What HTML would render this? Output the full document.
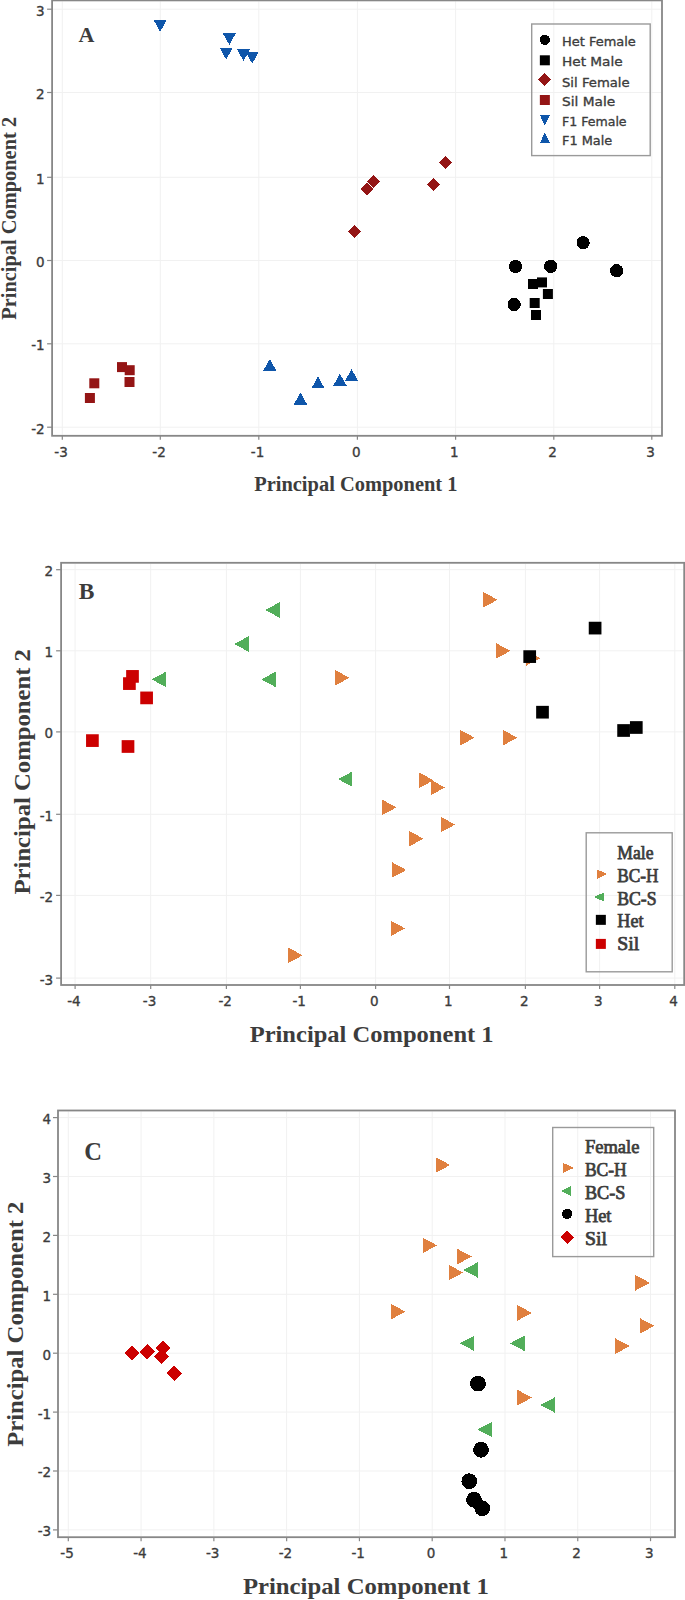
<!DOCTYPE html>
<html><head><meta charset="utf-8"><title>PCA plots</title>
<style>html,body{margin:0;padding:0;background:#fff;}body{width:685px;height:1600px;overflow:hidden;}svg{display:block;}</style>
</head><body>
<svg width="685" height="1600" viewBox="0 0 685 1600">
<style>polygon,circle{shape-rendering:crispEdges}</style>
<rect width="685" height="1600" fill="#ffffff"/>
<line x1="62.3" y1="1.4" x2="62.3" y2="434.8" stroke="#f1f1f1" stroke-width="1"/>
<line x1="160.3" y1="1.4" x2="160.3" y2="434.8" stroke="#f1f1f1" stroke-width="1"/>
<line x1="258.8" y1="1.4" x2="258.8" y2="434.8" stroke="#f1f1f1" stroke-width="1"/>
<line x1="357.4" y1="1.4" x2="357.4" y2="434.8" stroke="#f1f1f1" stroke-width="1"/>
<line x1="455.6" y1="1.4" x2="455.6" y2="434.8" stroke="#f1f1f1" stroke-width="1"/>
<line x1="553.8" y1="1.4" x2="553.8" y2="434.8" stroke="#f1f1f1" stroke-width="1"/>
<line x1="651.8" y1="1.4" x2="651.8" y2="434.8" stroke="#f1f1f1" stroke-width="1"/>
<line x1="53.1" y1="9.2" x2="661" y2="9.2" stroke="#f1f1f1" stroke-width="1"/>
<line x1="53.1" y1="92.5" x2="661" y2="92.5" stroke="#f1f1f1" stroke-width="1"/>
<line x1="53.1" y1="177.3" x2="661" y2="177.3" stroke="#f1f1f1" stroke-width="1"/>
<line x1="53.1" y1="260.5" x2="661" y2="260.5" stroke="#f1f1f1" stroke-width="1"/>
<line x1="53.1" y1="343.8" x2="661" y2="343.8" stroke="#f1f1f1" stroke-width="1"/>
<line x1="53.1" y1="427.2" x2="661" y2="427.2" stroke="#f1f1f1" stroke-width="1"/>
<line x1="62.3" y1="435.8" x2="62.3" y2="439.8" stroke="#878787" stroke-width="1.2"/>
<line x1="160.3" y1="435.8" x2="160.3" y2="439.8" stroke="#878787" stroke-width="1.2"/>
<line x1="258.8" y1="435.8" x2="258.8" y2="439.8" stroke="#878787" stroke-width="1.2"/>
<line x1="357.4" y1="435.8" x2="357.4" y2="439.8" stroke="#878787" stroke-width="1.2"/>
<line x1="455.6" y1="435.8" x2="455.6" y2="439.8" stroke="#878787" stroke-width="1.2"/>
<line x1="553.8" y1="435.8" x2="553.8" y2="439.8" stroke="#878787" stroke-width="1.2"/>
<line x1="651.8" y1="435.8" x2="651.8" y2="439.8" stroke="#878787" stroke-width="1.2"/>
<line x1="47.1" y1="9.2" x2="52.1" y2="9.2" stroke="#878787" stroke-width="1.2"/>
<line x1="47.1" y1="92.5" x2="52.1" y2="92.5" stroke="#878787" stroke-width="1.2"/>
<line x1="47.1" y1="177.3" x2="52.1" y2="177.3" stroke="#878787" stroke-width="1.2"/>
<line x1="47.1" y1="260.5" x2="52.1" y2="260.5" stroke="#878787" stroke-width="1.2"/>
<line x1="47.1" y1="343.8" x2="52.1" y2="343.8" stroke="#878787" stroke-width="1.2"/>
<line x1="47.1" y1="427.2" x2="52.1" y2="427.2" stroke="#878787" stroke-width="1.2"/>
<rect x="52.1" y="0.4" width="609.9" height="435.4" fill="none" stroke="#878787" stroke-width="1.8"/>
<text x="61.1" y="457.2" font-family="'DejaVu Sans', 'Liberation Sans', sans-serif" font-size="13.5" fill="#3c3c3c" stroke="#3c3c3c" stroke-width="0.35" text-anchor="middle">-3</text>
<text x="159.1" y="457.2" font-family="'DejaVu Sans', 'Liberation Sans', sans-serif" font-size="13.5" fill="#3c3c3c" stroke="#3c3c3c" stroke-width="0.35" text-anchor="middle">-2</text>
<text x="257.6" y="457.2" font-family="'DejaVu Sans', 'Liberation Sans', sans-serif" font-size="13.5" fill="#3c3c3c" stroke="#3c3c3c" stroke-width="0.35" text-anchor="middle">-1</text>
<text x="356.2" y="457.2" font-family="'DejaVu Sans', 'Liberation Sans', sans-serif" font-size="13.5" fill="#3c3c3c" stroke="#3c3c3c" stroke-width="0.35" text-anchor="middle">0</text>
<text x="454.4" y="457.2" font-family="'DejaVu Sans', 'Liberation Sans', sans-serif" font-size="13.5" fill="#3c3c3c" stroke="#3c3c3c" stroke-width="0.35" text-anchor="middle">1</text>
<text x="552.6" y="457.2" font-family="'DejaVu Sans', 'Liberation Sans', sans-serif" font-size="13.5" fill="#3c3c3c" stroke="#3c3c3c" stroke-width="0.35" text-anchor="middle">2</text>
<text x="650.6" y="457.2" font-family="'DejaVu Sans', 'Liberation Sans', sans-serif" font-size="13.5" fill="#3c3c3c" stroke="#3c3c3c" stroke-width="0.35" text-anchor="middle">3</text>
<text x="44.6" y="15.66" font-family="'DejaVu Sans', 'Liberation Sans', sans-serif" font-size="13.5" fill="#3c3c3c" stroke="#3c3c3c" stroke-width="0.35" text-anchor="end">3</text>
<text x="44.6" y="98.96" font-family="'DejaVu Sans', 'Liberation Sans', sans-serif" font-size="13.5" fill="#3c3c3c" stroke="#3c3c3c" stroke-width="0.35" text-anchor="end">2</text>
<text x="44.6" y="183.76" font-family="'DejaVu Sans', 'Liberation Sans', sans-serif" font-size="13.5" fill="#3c3c3c" stroke="#3c3c3c" stroke-width="0.35" text-anchor="end">1</text>
<text x="44.6" y="266.96" font-family="'DejaVu Sans', 'Liberation Sans', sans-serif" font-size="13.5" fill="#3c3c3c" stroke="#3c3c3c" stroke-width="0.35" text-anchor="end">0</text>
<text x="44.6" y="350.26" font-family="'DejaVu Sans', 'Liberation Sans', sans-serif" font-size="13.5" fill="#3c3c3c" stroke="#3c3c3c" stroke-width="0.35" text-anchor="end">-1</text>
<text x="44.6" y="433.66" font-family="'DejaVu Sans', 'Liberation Sans', sans-serif" font-size="13.5" fill="#3c3c3c" stroke="#3c3c3c" stroke-width="0.35" text-anchor="end">-2</text>
<polygon points="153.5,19.8 166.9,19.8 160.2,31.8" fill="#0f56aa"/>
<polygon points="222.6,32.9 236,32.9 229.3,44.9" fill="#0f56aa"/>
<polygon points="219.5,47.6 232.9,47.6 226.2,59.6" fill="#0f56aa"/>
<polygon points="236.8,49 250.2,49 243.5,61" fill="#0f56aa"/>
<polygon points="245.5,51.7 258.9,51.7 252.2,63.7" fill="#0f56aa"/>
<polygon points="263.1,370.9 276.5,370.9 269.8,359.1" fill="#0f56aa"/>
<polygon points="293.8,404.5 307.2,404.5 300.5,392.7" fill="#0f56aa"/>
<polygon points="311.3,388.4 324.7,388.4 318,376.6" fill="#0f56aa"/>
<polygon points="333.2,385.6 346.6,385.6 339.9,373.8" fill="#0f56aa"/>
<polygon points="344.9,381.1 358.3,381.1 351.6,369.3" fill="#0f56aa"/>
<polygon points="354.5,224.9 361,231.4 354.5,237.9 348,231.4" fill="#941515"/>
<polygon points="367.4,182.5 373.9,189 367.4,195.5 360.9,189" fill="#941515"/>
<polygon points="373.3,175 379.8,181.5 373.3,188 366.8,181.5" fill="#941515"/>
<polygon points="433.4,178.1 439.9,184.6 433.4,191.1 426.9,184.6" fill="#941515"/>
<polygon points="445.5,156 452,162.5 445.5,169 439,162.5" fill="#941515"/>
<rect x="84.9" y="393" width="10" height="10" fill="#941515"/>
<rect x="89.3" y="378.3" width="10" height="10" fill="#941515"/>
<rect x="117" y="362.1" width="10" height="10" fill="#941515"/>
<rect x="124.7" y="365.2" width="10" height="10" fill="#941515"/>
<rect x="124.5" y="377" width="10" height="10" fill="#941515"/>
<circle cx="583.1" cy="242.7" r="6.6" fill="#000000"/>
<circle cx="515.5" cy="266.4" r="6.6" fill="#000000"/>
<circle cx="550.7" cy="266.4" r="6.6" fill="#000000"/>
<circle cx="616.6" cy="270.7" r="6.6" fill="#000000"/>
<circle cx="514.2" cy="304.5" r="6.6" fill="#000000"/>
<rect x="528" y="279" width="10" height="10" fill="#000000"/>
<rect x="537" y="277.4" width="10" height="10" fill="#000000"/>
<rect x="542.9" y="289" width="10" height="10" fill="#000000"/>
<rect x="529.7" y="298" width="10" height="10" fill="#000000"/>
<rect x="531" y="310" width="10" height="10" fill="#000000"/>
<rect x="531.7" y="24" width="118.5" height="131.6" fill="none" stroke="#9a9a9a" stroke-width="1.4"/>
<circle cx="544.85" cy="39.9" r="5.1" fill="#000000"/>
<text x="562" y="46" font-family="'DejaVu Sans', 'Liberation Sans', sans-serif" font-size="13" fill="#3c3c3c" stroke="#3c3c3c" stroke-width="0.35" textLength="73.8" lengthAdjust="spacingAndGlyphs">Het Female</text>
<rect x="539.85" y="55.3" width="10" height="10" fill="#000000"/>
<text x="562" y="66.1" font-family="'DejaVu Sans', 'Liberation Sans', sans-serif" font-size="13" fill="#3c3c3c" stroke="#3c3c3c" stroke-width="0.35" textLength="60.6" lengthAdjust="spacingAndGlyphs">Het Male</text>
<polygon points="544.85,73 551.35,79.5 544.85,86 538.35,79.5" fill="#941515"/>
<text x="562" y="86.8" font-family="'DejaVu Sans', 'Liberation Sans', sans-serif" font-size="13" fill="#3c3c3c" stroke="#3c3c3c" stroke-width="0.35" textLength="67.6" lengthAdjust="spacingAndGlyphs">Sil Female</text>
<rect x="539.85" y="95" width="10" height="10" fill="#941515"/>
<text x="562" y="105.9" font-family="'DejaVu Sans', 'Liberation Sans', sans-serif" font-size="13" fill="#3c3c3c" stroke="#3c3c3c" stroke-width="0.35" textLength="53.2" lengthAdjust="spacingAndGlyphs">Sil Male</text>
<polygon points="539.85,115.05 549.85,115.05 544.85,125.75" fill="#0f56aa"/>
<text x="562" y="126.4" font-family="'DejaVu Sans', 'Liberation Sans', sans-serif" font-size="13" fill="#3c3c3c" stroke="#3c3c3c" stroke-width="0.35" textLength="64.6" lengthAdjust="spacingAndGlyphs">F1 Female</text>
<polygon points="539.85,142.95 549.85,142.95 544.85,132.65" fill="#0f56aa"/>
<text x="562" y="145.1" font-family="'DejaVu Sans', 'Liberation Sans', sans-serif" font-size="13" fill="#3c3c3c" stroke="#3c3c3c" stroke-width="0.35" textLength="50.2" lengthAdjust="spacingAndGlyphs">F1 Male</text>
<text x="78.5" y="42.1" font-family="'Liberation Serif', 'Times New Roman', serif" font-weight="bold" font-size="22" fill="#3c3c3c">A</text>
<text x="254.2" y="490.6" font-family="'Liberation Serif', 'Times New Roman', serif" font-weight="bold" font-size="20.5" fill="#3c3c3c" textLength="203.3" lengthAdjust="spacingAndGlyphs">Principal Component 1</text>
<text transform="translate(15.8,319.7) rotate(-90)" x="0" y="0" font-family="'Liberation Serif', 'Times New Roman', serif" font-weight="bold" font-size="21" fill="#3c3c3c" textLength="202.8" lengthAdjust="spacingAndGlyphs">Principal Component 2</text>
<line x1="75.1" y1="563.8" x2="75.1" y2="984" stroke="#f1f1f1" stroke-width="1"/>
<line x1="150.7" y1="563.8" x2="150.7" y2="984" stroke="#f1f1f1" stroke-width="1"/>
<line x1="226.4" y1="563.8" x2="226.4" y2="984" stroke="#f1f1f1" stroke-width="1"/>
<line x1="300.4" y1="563.8" x2="300.4" y2="984" stroke="#f1f1f1" stroke-width="1"/>
<line x1="375.6" y1="563.8" x2="375.6" y2="984" stroke="#f1f1f1" stroke-width="1"/>
<line x1="449.5" y1="563.8" x2="449.5" y2="984" stroke="#f1f1f1" stroke-width="1"/>
<line x1="525.4" y1="563.8" x2="525.4" y2="984" stroke="#f1f1f1" stroke-width="1"/>
<line x1="599.6" y1="563.8" x2="599.6" y2="984" stroke="#f1f1f1" stroke-width="1"/>
<line x1="674.8" y1="563.8" x2="674.8" y2="984" stroke="#f1f1f1" stroke-width="1"/>
<line x1="62.1" y1="569.7" x2="683.2" y2="569.7" stroke="#f1f1f1" stroke-width="1"/>
<line x1="62.1" y1="650.8" x2="683.2" y2="650.8" stroke="#f1f1f1" stroke-width="1"/>
<line x1="62.1" y1="731.9" x2="683.2" y2="731.9" stroke="#f1f1f1" stroke-width="1"/>
<line x1="62.1" y1="814.3" x2="683.2" y2="814.3" stroke="#f1f1f1" stroke-width="1"/>
<line x1="62.1" y1="895.4" x2="683.2" y2="895.4" stroke="#f1f1f1" stroke-width="1"/>
<line x1="62.1" y1="978.1" x2="683.2" y2="978.1" stroke="#f1f1f1" stroke-width="1"/>
<line x1="75.1" y1="985" x2="75.1" y2="989" stroke="#878787" stroke-width="1.2"/>
<line x1="150.7" y1="985" x2="150.7" y2="989" stroke="#878787" stroke-width="1.2"/>
<line x1="226.4" y1="985" x2="226.4" y2="989" stroke="#878787" stroke-width="1.2"/>
<line x1="300.4" y1="985" x2="300.4" y2="989" stroke="#878787" stroke-width="1.2"/>
<line x1="375.6" y1="985" x2="375.6" y2="989" stroke="#878787" stroke-width="1.2"/>
<line x1="449.5" y1="985" x2="449.5" y2="989" stroke="#878787" stroke-width="1.2"/>
<line x1="525.4" y1="985" x2="525.4" y2="989" stroke="#878787" stroke-width="1.2"/>
<line x1="599.6" y1="985" x2="599.6" y2="989" stroke="#878787" stroke-width="1.2"/>
<line x1="674.8" y1="985" x2="674.8" y2="989" stroke="#878787" stroke-width="1.2"/>
<line x1="56.1" y1="569.7" x2="61.1" y2="569.7" stroke="#878787" stroke-width="1.2"/>
<line x1="56.1" y1="650.8" x2="61.1" y2="650.8" stroke="#878787" stroke-width="1.2"/>
<line x1="56.1" y1="731.9" x2="61.1" y2="731.9" stroke="#878787" stroke-width="1.2"/>
<line x1="56.1" y1="814.3" x2="61.1" y2="814.3" stroke="#878787" stroke-width="1.2"/>
<line x1="56.1" y1="895.4" x2="61.1" y2="895.4" stroke="#878787" stroke-width="1.2"/>
<line x1="56.1" y1="978.1" x2="61.1" y2="978.1" stroke="#878787" stroke-width="1.2"/>
<rect x="61.1" y="562.8" width="623.1" height="422.2" fill="none" stroke="#878787" stroke-width="1.8"/>
<text x="73.9" y="1006.2" font-family="'DejaVu Sans', 'Liberation Sans', sans-serif" font-size="13.5" fill="#3c3c3c" stroke="#3c3c3c" stroke-width="0.35" text-anchor="middle">-4</text>
<text x="149.5" y="1006.2" font-family="'DejaVu Sans', 'Liberation Sans', sans-serif" font-size="13.5" fill="#3c3c3c" stroke="#3c3c3c" stroke-width="0.35" text-anchor="middle">-3</text>
<text x="225.2" y="1006.2" font-family="'DejaVu Sans', 'Liberation Sans', sans-serif" font-size="13.5" fill="#3c3c3c" stroke="#3c3c3c" stroke-width="0.35" text-anchor="middle">-2</text>
<text x="299.2" y="1006.2" font-family="'DejaVu Sans', 'Liberation Sans', sans-serif" font-size="13.5" fill="#3c3c3c" stroke="#3c3c3c" stroke-width="0.35" text-anchor="middle">-1</text>
<text x="374.4" y="1006.2" font-family="'DejaVu Sans', 'Liberation Sans', sans-serif" font-size="13.5" fill="#3c3c3c" stroke="#3c3c3c" stroke-width="0.35" text-anchor="middle">0</text>
<text x="448.3" y="1006.2" font-family="'DejaVu Sans', 'Liberation Sans', sans-serif" font-size="13.5" fill="#3c3c3c" stroke="#3c3c3c" stroke-width="0.35" text-anchor="middle">1</text>
<text x="524.2" y="1006.2" font-family="'DejaVu Sans', 'Liberation Sans', sans-serif" font-size="13.5" fill="#3c3c3c" stroke="#3c3c3c" stroke-width="0.35" text-anchor="middle">2</text>
<text x="598.4" y="1006.2" font-family="'DejaVu Sans', 'Liberation Sans', sans-serif" font-size="13.5" fill="#3c3c3c" stroke="#3c3c3c" stroke-width="0.35" text-anchor="middle">3</text>
<text x="673.6" y="1006.2" font-family="'DejaVu Sans', 'Liberation Sans', sans-serif" font-size="13.5" fill="#3c3c3c" stroke="#3c3c3c" stroke-width="0.35" text-anchor="middle">4</text>
<text x="53.2" y="576.16" font-family="'DejaVu Sans', 'Liberation Sans', sans-serif" font-size="13.5" fill="#3c3c3c" stroke="#3c3c3c" stroke-width="0.35" text-anchor="end">2</text>
<text x="53.2" y="657.26" font-family="'DejaVu Sans', 'Liberation Sans', sans-serif" font-size="13.5" fill="#3c3c3c" stroke="#3c3c3c" stroke-width="0.35" text-anchor="end">1</text>
<text x="53.2" y="738.36" font-family="'DejaVu Sans', 'Liberation Sans', sans-serif" font-size="13.5" fill="#3c3c3c" stroke="#3c3c3c" stroke-width="0.35" text-anchor="end">0</text>
<text x="53.2" y="820.76" font-family="'DejaVu Sans', 'Liberation Sans', sans-serif" font-size="13.5" fill="#3c3c3c" stroke="#3c3c3c" stroke-width="0.35" text-anchor="end">-1</text>
<text x="53.2" y="901.86" font-family="'DejaVu Sans', 'Liberation Sans', sans-serif" font-size="13.5" fill="#3c3c3c" stroke="#3c3c3c" stroke-width="0.35" text-anchor="end">-2</text>
<text x="53.2" y="984.56" font-family="'DejaVu Sans', 'Liberation Sans', sans-serif" font-size="13.5" fill="#3c3c3c" stroke="#3c3c3c" stroke-width="0.35" text-anchor="end">-3</text>
<polygon points="483.35,592.05 483.35,607.55 497.65,599.8" fill="#e0803f"/>
<polygon points="496.15,643.15 496.15,658.65 510.45,650.9" fill="#e0803f"/>
<polygon points="525.85,650.45 525.85,665.95 540.15,658.2" fill="#e0803f"/>
<polygon points="335.15,670.05 335.15,685.55 349.45,677.8" fill="#e0803f"/>
<polygon points="460.35,729.95 460.35,745.45 474.65,737.7" fill="#e0803f"/>
<polygon points="503.05,729.95 503.05,745.45 517.35,737.7" fill="#e0803f"/>
<polygon points="419.25,772.55 419.25,788.05 433.55,780.3" fill="#e0803f"/>
<polygon points="430.65,779.75 430.65,795.25 444.95,787.5" fill="#e0803f"/>
<polygon points="382.15,799.65 382.15,815.15 396.45,807.4" fill="#e0803f"/>
<polygon points="440.85,816.85 440.85,832.35 455.15,824.6" fill="#e0803f"/>
<polygon points="409.15,830.95 409.15,846.45 423.45,838.7" fill="#e0803f"/>
<polygon points="392.05,862.25 392.05,877.75 406.35,870" fill="#e0803f"/>
<polygon points="390.75,920.65 390.75,936.15 405.05,928.4" fill="#e0803f"/>
<polygon points="288.35,947.55 288.35,963.05 302.65,955.3" fill="#e0803f"/>
<polygon points="279.65,602.25 279.65,617.75 265.35,610" fill="#52ae5a"/>
<polygon points="248.65,636.25 248.65,651.75 234.35,644" fill="#52ae5a"/>
<polygon points="275.65,671.65 275.65,687.15 261.35,679.4" fill="#52ae5a"/>
<polygon points="166.05,671.65 166.05,687.15 151.75,679.4" fill="#52ae5a"/>
<polygon points="352.45,771.45 352.45,786.95 338.15,779.2" fill="#52ae5a"/>
<rect x="523.35" y="650.25" width="12.7" height="12.7" fill="#000000"/>
<rect x="536.15" y="705.85" width="12.7" height="12.7" fill="#000000"/>
<rect x="588.75" y="621.75" width="12.7" height="12.7" fill="#000000"/>
<rect x="617.25" y="724.15" width="12.7" height="12.7" fill="#000000"/>
<rect x="629.95" y="721.15" width="12.7" height="12.7" fill="#000000"/>
<rect x="126.15" y="670.05" width="12.7" height="12.7" fill="#cc0000"/>
<rect x="123.05" y="677.25" width="12.7" height="12.7" fill="#cc0000"/>
<rect x="140.25" y="691.55" width="12.7" height="12.7" fill="#cc0000"/>
<rect x="86.05" y="734.25" width="12.7" height="12.7" fill="#cc0000"/>
<rect x="121.65" y="740.15" width="12.7" height="12.7" fill="#cc0000"/>
<rect x="586.2" y="832.8" width="86" height="139" fill="none" stroke="#9a9a9a" stroke-width="1.4"/>
<text x="617.3" y="859.2" font-family="'Liberation Serif', 'Times New Roman', serif" font-size="18.8" fill="#3c3c3c" stroke="#3c3c3c" stroke-width="0.75" textLength="36.2" lengthAdjust="spacingAndGlyphs">Male</text>
<polygon points="597.1,869.4 597.1,878.8 607.1,874.1" fill="#e0803f"/>
<text x="617.3" y="881.8" font-family="'Liberation Serif', 'Times New Roman', serif" font-size="18.8" fill="#3c3c3c" stroke="#3c3c3c" stroke-width="0.75" textLength="41.2" lengthAdjust="spacingAndGlyphs">BC-H</text>
<polygon points="604.35,892.15 604.35,901.85 594.25,897" fill="#52ae5a"/>
<text x="617.3" y="904.6" font-family="'Liberation Serif', 'Times New Roman', serif" font-size="18.8" fill="#3c3c3c" stroke="#3c3c3c" stroke-width="0.75" textLength="39.3" lengthAdjust="spacingAndGlyphs">BC-S</text>
<rect x="595.85" y="914.85" width="10" height="10" fill="#000000"/>
<text x="617.3" y="927.3" font-family="'Liberation Serif', 'Times New Roman', serif" font-size="18.8" fill="#3c3c3c" stroke="#3c3c3c" stroke-width="0.75" textLength="26.2" lengthAdjust="spacingAndGlyphs">Het</text>
<rect x="595.85" y="938.9" width="10" height="10" fill="#cc0000"/>
<text x="617.3" y="949.8" font-family="'Liberation Serif', 'Times New Roman', serif" font-size="18.8" fill="#3c3c3c" stroke="#3c3c3c" stroke-width="0.75" textLength="22" lengthAdjust="spacingAndGlyphs">Sil</text>
<text x="78.8" y="598.9" font-family="'Liberation Serif', 'Times New Roman', serif" font-weight="bold" font-size="23.5" fill="#3c3c3c">B</text>
<text x="249.7" y="1041.5" font-family="'Liberation Serif', 'Times New Roman', serif" font-weight="bold" font-size="24" fill="#3c3c3c" textLength="243.9" lengthAdjust="spacingAndGlyphs">Principal Component 1</text>
<text transform="translate(30.3,894.5) rotate(-90)" x="0" y="0" font-family="'Liberation Serif', 'Times New Roman', serif" font-weight="bold" font-size="24" fill="#3c3c3c" textLength="245.4" lengthAdjust="spacingAndGlyphs">Principal Component 2</text>
<line x1="68.3" y1="1111.5" x2="68.3" y2="1536.2" stroke="#f1f1f1" stroke-width="1"/>
<line x1="141.08" y1="1111.5" x2="141.08" y2="1536.2" stroke="#f1f1f1" stroke-width="1"/>
<line x1="213.86" y1="1111.5" x2="213.86" y2="1536.2" stroke="#f1f1f1" stroke-width="1"/>
<line x1="286.64" y1="1111.5" x2="286.64" y2="1536.2" stroke="#f1f1f1" stroke-width="1"/>
<line x1="359.42" y1="1111.5" x2="359.42" y2="1536.2" stroke="#f1f1f1" stroke-width="1"/>
<line x1="432.2" y1="1111.5" x2="432.2" y2="1536.2" stroke="#f1f1f1" stroke-width="1"/>
<line x1="504.98" y1="1111.5" x2="504.98" y2="1536.2" stroke="#f1f1f1" stroke-width="1"/>
<line x1="577.76" y1="1111.5" x2="577.76" y2="1536.2" stroke="#f1f1f1" stroke-width="1"/>
<line x1="650.54" y1="1111.5" x2="650.54" y2="1536.2" stroke="#f1f1f1" stroke-width="1"/>
<line x1="59" y1="1529.9" x2="674" y2="1529.9" stroke="#f1f1f1" stroke-width="1"/>
<line x1="59" y1="1471" x2="674" y2="1471" stroke="#f1f1f1" stroke-width="1"/>
<line x1="59" y1="1412.1" x2="674" y2="1412.1" stroke="#f1f1f1" stroke-width="1"/>
<line x1="59" y1="1353.2" x2="674" y2="1353.2" stroke="#f1f1f1" stroke-width="1"/>
<line x1="59" y1="1294.3" x2="674" y2="1294.3" stroke="#f1f1f1" stroke-width="1"/>
<line x1="59" y1="1235.4" x2="674" y2="1235.4" stroke="#f1f1f1" stroke-width="1"/>
<line x1="59" y1="1176.5" x2="674" y2="1176.5" stroke="#f1f1f1" stroke-width="1"/>
<line x1="59" y1="1117.6" x2="674" y2="1117.6" stroke="#f1f1f1" stroke-width="1"/>
<line x1="68.3" y1="1537.2" x2="68.3" y2="1541.2" stroke="#878787" stroke-width="1.2"/>
<line x1="141.08" y1="1537.2" x2="141.08" y2="1541.2" stroke="#878787" stroke-width="1.2"/>
<line x1="213.86" y1="1537.2" x2="213.86" y2="1541.2" stroke="#878787" stroke-width="1.2"/>
<line x1="286.64" y1="1537.2" x2="286.64" y2="1541.2" stroke="#878787" stroke-width="1.2"/>
<line x1="359.42" y1="1537.2" x2="359.42" y2="1541.2" stroke="#878787" stroke-width="1.2"/>
<line x1="432.2" y1="1537.2" x2="432.2" y2="1541.2" stroke="#878787" stroke-width="1.2"/>
<line x1="504.98" y1="1537.2" x2="504.98" y2="1541.2" stroke="#878787" stroke-width="1.2"/>
<line x1="577.76" y1="1537.2" x2="577.76" y2="1541.2" stroke="#878787" stroke-width="1.2"/>
<line x1="650.54" y1="1537.2" x2="650.54" y2="1541.2" stroke="#878787" stroke-width="1.2"/>
<line x1="53" y1="1529.9" x2="58" y2="1529.9" stroke="#878787" stroke-width="1.2"/>
<line x1="53" y1="1471" x2="58" y2="1471" stroke="#878787" stroke-width="1.2"/>
<line x1="53" y1="1412.1" x2="58" y2="1412.1" stroke="#878787" stroke-width="1.2"/>
<line x1="53" y1="1353.2" x2="58" y2="1353.2" stroke="#878787" stroke-width="1.2"/>
<line x1="53" y1="1294.3" x2="58" y2="1294.3" stroke="#878787" stroke-width="1.2"/>
<line x1="53" y1="1235.4" x2="58" y2="1235.4" stroke="#878787" stroke-width="1.2"/>
<line x1="53" y1="1176.5" x2="58" y2="1176.5" stroke="#878787" stroke-width="1.2"/>
<line x1="53" y1="1117.6" x2="58" y2="1117.6" stroke="#878787" stroke-width="1.2"/>
<rect x="58" y="1110.5" width="617" height="426.7" fill="none" stroke="#878787" stroke-width="1.8"/>
<text x="67.1" y="1558.2" font-family="'DejaVu Sans', 'Liberation Sans', sans-serif" font-size="13.5" fill="#3c3c3c" stroke="#3c3c3c" stroke-width="0.35" text-anchor="middle">-5</text>
<text x="139.88" y="1558.2" font-family="'DejaVu Sans', 'Liberation Sans', sans-serif" font-size="13.5" fill="#3c3c3c" stroke="#3c3c3c" stroke-width="0.35" text-anchor="middle">-4</text>
<text x="212.66" y="1558.2" font-family="'DejaVu Sans', 'Liberation Sans', sans-serif" font-size="13.5" fill="#3c3c3c" stroke="#3c3c3c" stroke-width="0.35" text-anchor="middle">-3</text>
<text x="285.44" y="1558.2" font-family="'DejaVu Sans', 'Liberation Sans', sans-serif" font-size="13.5" fill="#3c3c3c" stroke="#3c3c3c" stroke-width="0.35" text-anchor="middle">-2</text>
<text x="358.22" y="1558.2" font-family="'DejaVu Sans', 'Liberation Sans', sans-serif" font-size="13.5" fill="#3c3c3c" stroke="#3c3c3c" stroke-width="0.35" text-anchor="middle">-1</text>
<text x="431" y="1558.2" font-family="'DejaVu Sans', 'Liberation Sans', sans-serif" font-size="13.5" fill="#3c3c3c" stroke="#3c3c3c" stroke-width="0.35" text-anchor="middle">0</text>
<text x="503.78" y="1558.2" font-family="'DejaVu Sans', 'Liberation Sans', sans-serif" font-size="13.5" fill="#3c3c3c" stroke="#3c3c3c" stroke-width="0.35" text-anchor="middle">1</text>
<text x="576.56" y="1558.2" font-family="'DejaVu Sans', 'Liberation Sans', sans-serif" font-size="13.5" fill="#3c3c3c" stroke="#3c3c3c" stroke-width="0.35" text-anchor="middle">2</text>
<text x="649.34" y="1558.2" font-family="'DejaVu Sans', 'Liberation Sans', sans-serif" font-size="13.5" fill="#3c3c3c" stroke="#3c3c3c" stroke-width="0.35" text-anchor="middle">3</text>
<text x="51.1" y="1536.36" font-family="'DejaVu Sans', 'Liberation Sans', sans-serif" font-size="13.5" fill="#3c3c3c" stroke="#3c3c3c" stroke-width="0.35" text-anchor="end">-3</text>
<text x="51.1" y="1477.46" font-family="'DejaVu Sans', 'Liberation Sans', sans-serif" font-size="13.5" fill="#3c3c3c" stroke="#3c3c3c" stroke-width="0.35" text-anchor="end">-2</text>
<text x="51.1" y="1418.56" font-family="'DejaVu Sans', 'Liberation Sans', sans-serif" font-size="13.5" fill="#3c3c3c" stroke="#3c3c3c" stroke-width="0.35" text-anchor="end">-1</text>
<text x="51.1" y="1359.66" font-family="'DejaVu Sans', 'Liberation Sans', sans-serif" font-size="13.5" fill="#3c3c3c" stroke="#3c3c3c" stroke-width="0.35" text-anchor="end">0</text>
<text x="51.1" y="1300.76" font-family="'DejaVu Sans', 'Liberation Sans', sans-serif" font-size="13.5" fill="#3c3c3c" stroke="#3c3c3c" stroke-width="0.35" text-anchor="end">1</text>
<text x="51.1" y="1241.86" font-family="'DejaVu Sans', 'Liberation Sans', sans-serif" font-size="13.5" fill="#3c3c3c" stroke="#3c3c3c" stroke-width="0.35" text-anchor="end">2</text>
<text x="51.1" y="1182.96" font-family="'DejaVu Sans', 'Liberation Sans', sans-serif" font-size="13.5" fill="#3c3c3c" stroke="#3c3c3c" stroke-width="0.35" text-anchor="end">3</text>
<text x="51.1" y="1124.06" font-family="'DejaVu Sans', 'Liberation Sans', sans-serif" font-size="13.5" fill="#3c3c3c" stroke="#3c3c3c" stroke-width="0.35" text-anchor="end">4</text>
<polygon points="435.75,1157.2 435.75,1172.8 450.25,1165" fill="#e0803f"/>
<polygon points="422.65,1237.6 422.65,1253.2 437.15,1245.4" fill="#e0803f"/>
<polygon points="457.25,1248.8 457.25,1264.4 471.75,1256.6" fill="#e0803f"/>
<polygon points="448.65,1264.8 448.65,1280.4 463.15,1272.6" fill="#e0803f"/>
<polygon points="390.95,1303.9 390.95,1319.5 405.45,1311.7" fill="#e0803f"/>
<polygon points="517.45,1305.1 517.45,1320.7 531.95,1312.9" fill="#e0803f"/>
<polygon points="635.35,1275 635.35,1290.6 649.85,1282.8" fill="#e0803f"/>
<polygon points="639.75,1318.1 639.75,1333.7 654.25,1325.9" fill="#e0803f"/>
<polygon points="615.25,1338.3 615.25,1353.9 629.75,1346.1" fill="#e0803f"/>
<polygon points="517.45,1389.8 517.45,1405.4 531.95,1397.6" fill="#e0803f"/>
<polygon points="477.95,1262.2 477.95,1277.8 463.45,1270" fill="#52ae5a"/>
<polygon points="474.45,1335.5 474.45,1351.1 459.95,1343.3" fill="#52ae5a"/>
<polygon points="524.55,1335.5 524.55,1351.1 510.05,1343.3" fill="#52ae5a"/>
<polygon points="555.05,1397.2 555.05,1412.8 540.55,1405" fill="#52ae5a"/>
<polygon points="492.05,1421.7 492.05,1437.3 477.55,1429.5" fill="#52ae5a"/>
<circle cx="478" cy="1383.6" r="7.9" fill="#000000"/>
<circle cx="481" cy="1449.8" r="7.9" fill="#000000"/>
<circle cx="469.3" cy="1481.2" r="7.9" fill="#000000"/>
<circle cx="474" cy="1499.8" r="7.9" fill="#000000"/>
<circle cx="482.2" cy="1508.3" r="7.9" fill="#000000"/>
<polygon points="132.3,1345.5 139.9,1353.1 132.3,1360.7 124.7,1353.1" fill="#cc0000"/>
<polygon points="147.2,1344.2 154.8,1351.8 147.2,1359.4 139.6,1351.8" fill="#cc0000"/>
<polygon points="163,1340.6 170.6,1348.2 163,1355.8 155.4,1348.2" fill="#cc0000"/>
<polygon points="161.6,1348.9 169.2,1356.5 161.6,1364.1 154,1356.5" fill="#cc0000"/>
<polygon points="174.4,1365.6 182,1373.2 174.4,1380.8 166.8,1373.2" fill="#cc0000"/>
<rect x="552.7" y="1127.5" width="101" height="129.1" fill="none" stroke="#9a9a9a" stroke-width="1.4"/>
<text x="584.9" y="1152.9" font-family="'Liberation Serif', 'Times New Roman', serif" font-size="18.8" fill="#3c3c3c" stroke="#3c3c3c" stroke-width="0.75" textLength="54.6" lengthAdjust="spacingAndGlyphs">Female</text>
<polygon points="563.3,1163 563.3,1172.8 573.9,1167.9" fill="#e0803f"/>
<text x="584.9" y="1175.6" font-family="'Liberation Serif', 'Times New Roman', serif" font-size="18.8" fill="#3c3c3c" stroke="#3c3c3c" stroke-width="0.75" textLength="41.8" lengthAdjust="spacingAndGlyphs">BC-H</text>
<polygon points="570.85,1186 570.85,1196 560.55,1191" fill="#52ae5a"/>
<text x="584.9" y="1198.9" font-family="'Liberation Serif', 'Times New Roman', serif" font-size="18.8" fill="#3c3c3c" stroke="#3c3c3c" stroke-width="0.75" textLength="40.4" lengthAdjust="spacingAndGlyphs">BC-S</text>
<circle cx="567.1" cy="1213.9" r="5.1" fill="#000000"/>
<text x="584.9" y="1222.1" font-family="'Liberation Serif', 'Times New Roman', serif" font-size="18.8" fill="#3c3c3c" stroke="#3c3c3c" stroke-width="0.75" textLength="26.6" lengthAdjust="spacingAndGlyphs">Het</text>
<polygon points="567.2,1230.55 573.85,1237.2 567.2,1243.85 560.55,1237.2" fill="#cc0000"/>
<text x="584.9" y="1244.6" font-family="'Liberation Serif', 'Times New Roman', serif" font-size="18.8" fill="#3c3c3c" stroke="#3c3c3c" stroke-width="0.75" textLength="22" lengthAdjust="spacingAndGlyphs">Sil</text>
<text x="84.2" y="1159.6" font-family="'Liberation Serif', 'Times New Roman', serif" font-weight="bold" font-size="24.5" fill="#3c3c3c">C</text>
<text x="242.9" y="1593.6" font-family="'Liberation Serif', 'Times New Roman', serif" font-weight="bold" font-size="24" fill="#3c3c3c" textLength="246" lengthAdjust="spacingAndGlyphs">Principal Component 1</text>
<text transform="translate(22.8,1446.8) rotate(-90)" x="0" y="0" font-family="'Liberation Serif', 'Times New Roman', serif" font-weight="bold" font-size="24" fill="#3c3c3c" textLength="245.2" lengthAdjust="spacingAndGlyphs">Principal Component 2</text>
</svg>
</body></html>
